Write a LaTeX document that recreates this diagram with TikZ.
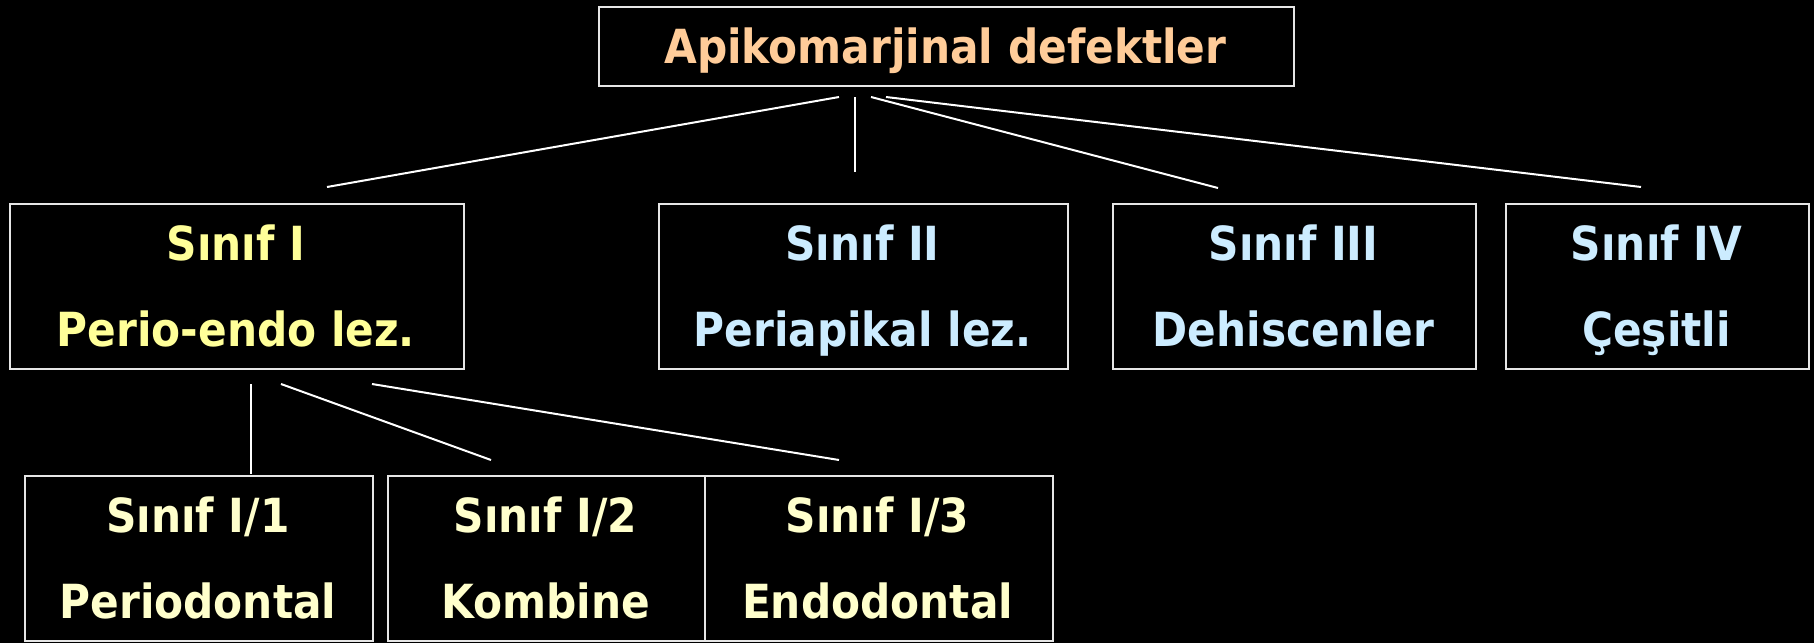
\documentclass[tikz,border=0pt]{standalone}
\usepackage{fontspec}
\setmainfont{DejaVu Sans Condensed}
\definecolor{peach}{HTML}{FFCC99}
\definecolor{yel}{HTML}{FFFF99}
\definecolor{lblue}{HTML}{CCECFF}
\definecolor{lyel}{HTML}{FFFFCC}
\definecolor{bord}{HTML}{E6E6E6}
\tikzset{
  box/.style={draw=bord, line width=1.8pt, fill=black, inner sep=0pt, anchor=north west},
  txt/.style={anchor=base, inner sep=0pt, font=\bfseries\fontsize{47}{50}\selectfont},
  conn/.style={draw=white, line width=2pt},
}
\begin{document}
\begin{tikzpicture}[x=1pt,y=-1pt]
\fill[black] (0,0) rectangle (1814,643);
\useasboundingbox (0,0) rectangle (1814,643);
% boxes
\node[box, minimum width=695pt, minimum height=79pt] (top) at (598,6) {};
\node[box, minimum width=454pt, minimum height=165pt] (s1) at (9,203) {};
\node[box, minimum width=409pt, minimum height=165pt] (s2) at (658,203) {};
\node[box, minimum width=363pt, minimum height=165pt] (s3) at (1112,203) {};
\node[box, minimum width=303pt, minimum height=165pt] (s4) at (1505,203) {};
\node[box, minimum width=348pt, minimum height=165pt] (a) at (24,475) {};
\node[box, minimum width=317pt, minimum height=165pt] (b) at (387,475) {};
\node[box, minimum width=348pt, minimum height=165pt] (c) at (704,475) {};
% texts
\node[txt, text=peach] (ttop) at (945.5,63) {Apikomarjinal defektler};
\node[txt, text=yel] (t1a) at (236,260) {Sınıf I};
\node[txt, text=yel] (t1b) at (236,346) {Perio-endo lez.};
\node[txt, text=lblue] (t2a) at (862.5,260) {Sınıf II};
\node[txt, text=lblue] (t2b) at (862.5,346) {Periapikal lez.};
\node[txt, text=lblue] (t3a) at (1293.5,260) {Sınıf III};
\node[txt, text=lblue] (t3b) at (1293.5,346) {Dehiscenler};
\node[txt, text=lblue] (t4a) at (1656.5,260) {Sınıf IV};
\node[txt, text=lblue] (t4b) at (1656.5,346) {Çeşitli};
\node[txt, text=lyel] (tAa) at (198,532) {Sınıf I/1};
\node[txt, text=lyel] (tAb) at (198,618) {Periodontal};
\node[txt, text=lyel] (tBa) at (545.5,532) {Sınıf I/2};
\node[txt, text=lyel] (tBb) at (545.5,618) {Kombine};
\node[txt, text=lyel] (tCa) at (877.5,532) {Sınıf I/3};
\node[txt, text=lyel] (tCb) at (877.5,618) {Endodontal};
% connector ends
\coordinate (p1) at (839,97);
\coordinate (p2) at (855,97);
\coordinate (p3) at (871,97);
\coordinate (p4) at (886,97);
\coordinate (q1) at (327,187);
\coordinate (q2) at (855,172);
\coordinate (q3) at (1218,188);
\coordinate (q4) at (1641,187);
\coordinate (r1) at (250.5,384);
\coordinate (r2) at (281,384);
\coordinate (r3) at (372,384);
\coordinate (u1) at (250.5,474);
\coordinate (u2) at (491,460);
\coordinate (u3) at (839,460);
\draw[conn] (p1) -- (q1);
\draw[conn] (p2) -- (q2);
\draw[conn] (p3) -- (q3);
\draw[conn] (p4) -- (q4);
\draw[conn] (r1) -- (u1);
\draw[conn] (r2) -- (u2);
\draw[conn] (r3) -- (u3);
\end{tikzpicture}
\end{document}
